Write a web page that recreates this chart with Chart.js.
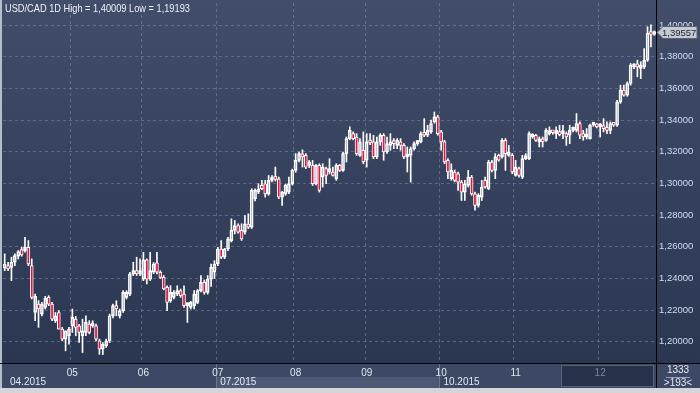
<!DOCTYPE html>
<html>
<head>
<meta charset="utf-8">
<title>USD/CAD 1D</title>
<script src="https://cdn.jsdelivr.net/npm/chart.js@4.4.0/dist/chart.umd.min.js"></script>
<style>
    html, body { margin: 0; padding: 0; background: #2f3a55; }
    #wrap { position: relative; width: 700px; height: 393px; }
</style>
</head>
<body>
<div id="wrap"><canvas id="chart" width="700" height="393"></canvas></div>
<script>
// USD/CAD daily candles, Apr - Dec 2015 (193 bars)

const opens = [
    1.2464, 1.2481, 1.2470, 1.2502, 1.2540, 1.2582, 1.2576, 1.2597, 1.2481, 1.2185,
    1.2238, 1.2175, 1.2217, 1.2280, 1.2238, 1.2133, 1.2185, 1.2080, 1.2017, 1.2038,
    1.2101, 1.2143, 1.2101, 1.2038, 1.2059, 1.2112, 1.2101, 1.2101, 1.2006, 1.1953,
    1.1974, 1.2006, 1.2164, 1.2228, 1.2164, 1.2196, 1.2280, 1.2301, 1.2428, 1.2449,
    1.2428, 1.2396, 1.2517, 1.2396, 1.2439, 1.2498, 1.2439, 1.2407, 1.2344, 1.2259,
    1.2280, 1.2301, 1.2323, 1.2301, 1.2228, 1.2217, 1.2228, 1.2249, 1.2323, 1.2375,
    1.2312, 1.2396, 1.2440, 1.2491, 1.2586, 1.2534, 1.2586, 1.2639, 1.2703, 1.2734,
    1.2703, 1.2692, 1.2734, 1.2724, 1.2903, 1.2945, 1.2987, 1.2998, 1.2934, 1.3019,
    1.3029, 1.3029, 1.2913, 1.2934, 1.2945, 1.2998, 1.3082, 1.3145, 1.3177, 1.3177,
    1.3114, 1.3114, 1.2998, 1.3114, 1.3040, 1.3093, 1.3072, 1.3072, 1.3030, 1.3114,
    1.3082, 1.3188, 1.3283, 1.3314, 1.3293, 1.3177, 1.3209, 1.3146, 1.3262, 1.3262,
    1.3167, 1.3262, 1.3304, 1.3198, 1.3240, 1.3262, 1.3240, 1.3262, 1.3240, 1.3167,
    1.3177, 1.3219, 1.3251, 1.3262, 1.3314, 1.3304, 1.3325, 1.3388, 1.3420, 1.3325,
    1.3262, 1.3146, 1.3030, 1.3072, 1.3061, 1.3008, 1.2945, 1.2987, 1.3040, 1.2934,
    1.2861, 1.2913, 1.3019, 1.2966, 1.3135, 1.3082, 1.3177, 1.3167, 1.3272, 1.3177,
    1.3177, 1.3051, 1.3093, 1.3040, 1.3156, 1.3156, 1.3293, 1.3304, 1.3262, 1.3272,
    1.3272, 1.3314, 1.3325, 1.3314, 1.3325, 1.3314, 1.3314, 1.3304, 1.3335, 1.3335,
    1.3378, 1.3314, 1.3293, 1.3283, 1.3367, 1.3367, 1.3357, 1.3357, 1.3346, 1.3335,
    1.3378, 1.3367, 1.3515, 1.3589, 1.3557, 1.3631, 1.3736, 1.3751, 1.3726, 1.3736,
    1.3778, 1.3947, 1.3940
];
const highs = [
    1.2555, 1.2502, 1.2534, 1.2555, 1.2576, 1.2597, 1.2660, 1.2639, 1.2523, 1.2301,
    1.2260, 1.2249, 1.2287, 1.2291, 1.2249, 1.2185, 1.2196, 1.2091, 1.2069, 1.2091,
    1.2207, 1.2160, 1.2110, 1.2143, 1.2164, 1.2133, 1.2133, 1.2112, 1.2017, 1.1995,
    1.2017, 1.2175, 1.2238, 1.2259, 1.2207, 1.2323, 1.2323, 1.2439, 1.2502, 1.2534,
    1.2523, 1.2565, 1.2523, 1.2565, 1.2500, 1.2565, 1.2449, 1.2418, 1.2354, 1.2354,
    1.2323, 1.2354, 1.2333, 1.2354, 1.2245, 1.2255, 1.2323, 1.2330, 1.2418, 1.2390,
    1.2418, 1.2491, 1.2512, 1.2597, 1.2639, 1.2590, 1.2660, 1.2776, 1.2766, 1.2745,
    1.2745, 1.2797, 1.2808, 1.2966, 1.2966, 1.2998, 1.3019, 1.3019, 1.3050, 1.3050,
    1.3103, 1.3040, 1.2950, 1.2995, 1.3040, 1.3090, 1.3188, 1.3198, 1.3212, 1.3188,
    1.3145, 1.3145, 1.3120, 1.3124, 1.3124, 1.3103, 1.3156, 1.3103, 1.3124, 1.3120,
    1.3198, 1.3293, 1.3357, 1.3325, 1.3314, 1.3283, 1.3325, 1.3314, 1.3314, 1.3304,
    1.3293, 1.3314, 1.3314, 1.3293, 1.3314, 1.3283, 1.3283, 1.3283, 1.3251, 1.3230,
    1.3230, 1.3262, 1.3272, 1.3325, 1.3409, 1.3367, 1.3399, 1.3451, 1.3430, 1.3335,
    1.3272, 1.3156, 1.3124, 1.3085, 1.3072, 1.3019, 1.3019, 1.3082, 1.3051, 1.2945,
    1.2935, 1.3019, 1.3040, 1.3146, 1.3146, 1.3188, 1.3185, 1.3283, 1.3283, 1.3240,
    1.3188, 1.3146, 1.3103, 1.3177, 1.3188, 1.3325, 1.3314, 1.3310, 1.3293, 1.3293,
    1.3346, 1.3357, 1.3335, 1.3357, 1.3367, 1.3367, 1.3325, 1.3367, 1.3357, 1.3441,
    1.3388, 1.3335, 1.3346, 1.3375, 1.3378, 1.3378, 1.3378, 1.3409, 1.3388, 1.3388,
    1.3385, 1.3525, 1.3620, 1.3620, 1.3641, 1.3757, 1.3757, 1.3778, 1.3768, 1.3852,
    1.3989, 1.40009, 1.3962
];
const lows = [
    1.2449, 1.2449, 1.2386, 1.2481, 1.2523, 1.2540, 1.2565, 1.2481, 1.2270, 1.2133,
    1.2091, 1.2164, 1.2207, 1.2228, 1.2133, 1.2122, 1.2080, 1.2006, 1.1943, 1.1985,
    1.2059, 1.2038, 1.1996, 1.1932, 1.2038, 1.2050, 1.2091, 1.2006, 1.1921, 1.19193,
    1.1964, 1.1995, 1.2150, 1.2164, 1.2150, 1.2185, 1.2270, 1.2291, 1.2418, 1.2418,
    1.2418, 1.2386, 1.2365, 1.2386, 1.2430, 1.2428, 1.2400, 1.2328, 1.2196, 1.2249,
    1.2270, 1.2291, 1.2280, 1.2217, 1.2122, 1.2207, 1.2207, 1.2240, 1.2315, 1.2300,
    1.2301, 1.2350, 1.2400, 1.2480, 1.2525, 1.2525, 1.2576, 1.2630, 1.2681, 1.2685,
    1.2640, 1.2680, 1.2715, 1.2715, 1.2890, 1.2935, 1.2960, 1.2913, 1.2925, 1.3010,
    1.3015, 1.2903, 1.2861, 1.2925, 1.2935, 1.2990, 1.3070, 1.3135, 1.3103, 1.3093,
    1.3100, 1.2987, 1.2990, 1.2945, 1.2977, 1.2998, 1.3060, 1.3045, 1.3019, 1.3075,
    1.3075, 1.3135, 1.3275, 1.3275, 1.3177, 1.3170, 1.3124, 1.3103, 1.3245, 1.3156,
    1.3156, 1.3240, 1.3146, 1.3190, 1.3209, 1.3219, 1.3219, 1.3209, 1.3156, 1.3072,
    1.3008, 1.3210, 1.3240, 1.3255, 1.3295, 1.3295, 1.3315, 1.3380, 1.3304, 1.3209,
    1.3124, 1.3030, 1.3020, 1.3010, 1.2956, 1.2892, 1.2892, 1.2977, 1.2925, 1.2831,
    1.2850, 1.2892, 1.2970, 1.2960, 1.3072, 1.3030, 1.3140, 1.3160, 1.3082, 1.3170,
    1.3061, 1.3045, 1.3040, 1.3030, 1.3150, 1.3150, 1.3285, 1.3265, 1.3230, 1.3230,
    1.3265, 1.3305, 1.3310, 1.3283, 1.3300, 1.3283, 1.3240, 1.3251, 1.3325, 1.3325,
    1.3283, 1.3272, 1.3280, 1.3280, 1.3360, 1.3350, 1.3293, 1.3325, 1.3314, 1.3314,
    1.3360, 1.3360, 1.3505, 1.3550, 1.3550, 1.3620, 1.3725, 1.3673, 1.3662, 1.3725,
    1.3770, 1.3862, 1.3935
];
const closes = [
    1.2491, 1.2460, 1.2502, 1.2544, 1.2570, 1.2548, 1.2597, 1.2491, 1.2280, 1.2287,
    1.2207, 1.2238, 1.2274, 1.2238, 1.2143, 1.2164, 1.2080, 1.2017, 1.2069, 1.2080,
    1.2154, 1.2091, 1.2059, 1.2069, 1.2122, 1.2059, 1.2112, 1.2017, 1.1953, 1.1985,
    1.2006, 1.2164, 1.2228, 1.2207, 1.2196, 1.2312, 1.2312, 1.2428, 1.2449, 1.2428,
    1.2449, 1.2517, 1.2396, 1.2449, 1.2491, 1.2439, 1.2407, 1.2333, 1.2249, 1.2312,
    1.2312, 1.2323, 1.2291, 1.2228, 1.2238, 1.2249, 1.2301, 1.2323, 1.2375, 1.2312,
    1.2396, 1.2470, 1.2491, 1.2586, 1.2534, 1.2586, 1.2650, 1.2703, 1.2734, 1.2692,
    1.2650, 1.2745, 1.2724, 1.2956, 1.2956, 1.2966, 1.2966, 1.2934, 1.3019, 1.3029,
    1.3025, 1.2913, 1.2945, 1.2987, 1.2998, 1.3082, 1.3145, 1.3188, 1.3167, 1.3103,
    1.3135, 1.2998, 1.3114, 1.2956, 1.3103, 1.3051, 1.3093, 1.3051, 1.3114, 1.3082,
    1.3188, 1.3283, 1.3335, 1.3283, 1.3188, 1.3262, 1.3135, 1.3262, 1.3255, 1.3167,
    1.3262, 1.3304, 1.3198, 1.3251, 1.3262, 1.3251, 1.3272, 1.3240, 1.3167, 1.3177,
    1.3219, 1.3251, 1.3262, 1.3314, 1.3304, 1.3335, 1.3378, 1.3420, 1.3314, 1.3262,
    1.3135, 1.3072, 1.3082, 1.3019, 1.3008, 1.2945, 1.2998, 1.3040, 1.2934, 1.2861,
    1.2924, 1.2977, 1.2977, 1.3135, 1.3082, 1.3167, 1.3146, 1.3272, 1.3188, 1.3198,
    1.3072, 1.3103, 1.3051, 1.3156, 1.3167, 1.3314, 1.3304, 1.3272, 1.3272, 1.3262,
    1.3335, 1.3325, 1.3320, 1.3335, 1.3308, 1.3325, 1.3293, 1.3335, 1.3346, 1.3378,
    1.3304, 1.3293, 1.3300, 1.3367, 1.3371, 1.3357, 1.3367, 1.3346, 1.3335, 1.3378,
    1.3367, 1.3515, 1.3589, 1.3557, 1.3631, 1.3747, 1.3747, 1.3736, 1.3747, 1.3778,
    1.3947, 1.3940, 1.39557
];

// first bar of each month and its axis label
const monthStarts = [20, 41, 63, 86, 107, 129, 151, 176];
const monthLabels = ['05', '06', '07', '08', '09', '10', '11', '12'];
// navigator row
const yearStarts = [0, 63, 129];
const yearLabels = ['04.2015', '07.2015', '10.2015'];

const yTicks = [1.20, 1.22, 1.24, 1.26, 1.28, 1.30, 1.32, 1.34, 1.36, 1.38, 1.40];
const yMin = 1.1866;
const yMax = 1.4139;

const FONT = 'Liberation Sans, Arial, sans-serif';
const GRID = 'rgba(140, 156, 188, 0.45)';

function fmt(v) {
    return v.toFixed(5).replace('.', ',');
}

const labels = closes.map((c, i) => String(i));
const bodyTop = opens.map((o, i) => Math.max(o, closes[i]));
const bodyBot = opens.map((o, i) => Math.min(o, closes[i]));

// edge between bar i-1 and bar i
function barEdge(x, i) {
    const step = x.getPixelForTick(1) - x.getPixelForTick(0);
    return x.getPixelForTick(i) - step / 2;
}

const backdrop = {
    id: 'backdrop',
    beforeDraw(chart) {
        const { ctx, chartArea: a, width, height } = chart;
        const x = chart.scales.x;
        ctx.save();

        const g = ctx.createLinearGradient(0, 0, 0, a.bottom);
        g.addColorStop(0, '#414d69');
        g.addColorStop(1, '#2b3651');
        ctx.fillStyle = g;
        ctx.fillRect(0, 0, width, a.bottom);

        // navigator strip
        const navBottom = height - 5;
        ctx.fillStyle = '#3c4864';
        ctx.fillRect(0, a.bottom, width, navBottom - a.bottom);

        const b0 = barEdge(x, yearStarts[1]);
        const b1 = barEdge(x, yearStarts[2]);
        ctx.fillStyle = '#4d5974';
        ctx.fillRect(b0, a.bottom + 14, b1 - b0, navBottom - a.bottom - 14);
        ctx.fillStyle = '#6b7690';
        ctx.fillRect(Math.round(b0), a.bottom, 1, navBottom - a.bottom);
        ctx.fillRect(Math.round(b1), a.bottom, 1, navBottom - a.bottom);

        // dark box over the last weeks
        const d0 = Math.round(barEdge(x, 165));
        ctx.fillStyle = '#27314a';
        ctx.fillRect(d0, a.bottom + 2, a.right - d0 - 2, navBottom - a.bottom - 3);
        ctx.strokeStyle = '#55607a';
        ctx.lineWidth = 1;
        ctx.strokeRect(d0 + 0.5, a.bottom + 2.5, a.right - d0 - 3, navBottom - a.bottom - 4);

        // year labels
        ctx.font = '10px ' + FONT;
        ctx.fillStyle = '#e4e9f2';
        ctx.textBaseline = 'middle';
        ctx.textAlign = 'left';
        yearStarts.forEach((idx, k) => {
            const px = Math.max(barEdge(x, idx) + 4, 10);
            ctx.fillText(yearLabels[k], px, a.bottom + 19);
        });

        // bar count box
        ctx.textAlign = 'center';
        const cx = (a.right + width) / 2;
        ctx.fillText('1333', cx, a.bottom + 7);
        ctx.fillStyle = '#9aa4b8';
        ctx.fillRect(cx - 12, a.bottom + 14, 24, 1);
        ctx.fillStyle = '#e4e9f2';
        ctx.fillText('>' + closes.length + '<', cx, a.bottom + 20);

        // frame
        ctx.fillStyle = '#b4bdcb';
        ctx.fillRect(0, 0, 2, navBottom);
        ctx.fillStyle = '#d3d5d9';
        ctx.fillRect(0, navBottom, width, height - navBottom);
        ctx.restore();
    },
    afterDraw(chart) {
        const { ctx, chartArea: a, width } = chart;
        const y = chart.scales.y;
        ctx.save();

        ctx.fillStyle = '#000';
        ctx.fillRect(Math.round(a.right), 0, 1, chart.height - 5);
        ctx.fillRect(0, Math.round(a.bottom), width, 1);

        // title, squeezed a little to match the original's narrow face
        const hi = Math.max(...highs);
        const lo = Math.min(...lows);
        ctx.save();
        ctx.translate(5, 9);
        ctx.scale(0.88, 1);
        ctx.font = '10.5px ' + FONT;
        ctx.fillStyle = '#eef2f8';
        ctx.textBaseline = 'middle';
        ctx.textAlign = 'left';
        ctx.fillText('USD/CAD 1D High = ' + fmt(hi) + ' Low = ' + fmt(lo), 0, 0);
        ctx.restore();

        // last price marker
        const last = closes[closes.length - 1];
        const py = Math.round(y.getPixelForValue(last)) + 0.5;
        const x0 = Math.round(a.right) + 1;
        ctx.beginPath();
        ctx.moveTo(x0, py);
        ctx.lineTo(x0 + 6, py - 6);
        ctx.lineTo(width - 3, py - 6);
        ctx.lineTo(width - 3, py + 6);
        ctx.lineTo(x0 + 6, py + 6);
        ctx.closePath();
        ctx.fillStyle = '#c6cad2';
        ctx.fill();
        ctx.strokeStyle = '#5a6274';
        ctx.lineWidth = 1;
        ctx.stroke();
        ctx.font = '9.5px ' + FONT;
        ctx.fillStyle = '#1b2232';
        ctx.textBaseline = 'middle';
        ctx.textAlign = 'left';
        ctx.fillText(fmt(last), x0 + 5, py + 0.5);
        ctx.restore();
    }
};

const ctx = document.getElementById('chart').getContext('2d');
new Chart(ctx, {
    type: 'bar',
    data: {
        labels: labels,
        datasets: [
            {
                label: 'upper wick',
                data: bodyTop.map((t, i) => [t, highs[i]]),
                backgroundColor: '#ffffff',
                barThickness: 1,
                grouped: false,
                order: 2
            },
            {
                label: 'lower wick',
                data: bodyBot.map((b, i) => [lows[i], b]),
                backgroundColor: '#ffffff',
                barThickness: 1,
                grouped: false,
                order: 2
            },
            {
                label: 'body',
                data: bodyBot.map((b, i) => [b, bodyTop[i]]),
                backgroundColor: c => closes[c.dataIndex] < opens[c.dataIndex] ? '#e5123d' : 'rgba(0,0,0,0)',
                borderColor: '#ffffff',
                borderWidth: 1,
                borderSkipped: false,
                barThickness: 3,
                minBarLength: 3,
                grouped: false,
                order: 1
            }
        ]
    },
    options: {
        responsive: false,
        animation: false,
        events: [],
        layout: { padding: { left: 3, top: 3, right: 0, bottom: 0 } },
        plugins: {
            legend: { display: false },
            tooltip: { enabled: false }
        },
        scales: {
            x: {
                offset: true,
                grid: {
                    offset: true,
                    drawTicks: false,
                    color: c => monthStarts.includes(c.index) ? GRID : 'rgba(0,0,0,0)'
                },
                border: { display: false, dash: [3, 3] },
                ticks: {
                    autoSkip: false,
                    maxRotation: 0,
                    padding: 4,
                    font: { family: FONT, size: 10 },
                    color: c => monthLabels[monthStarts.indexOf(c.index)] === '12' ? '#7b869b' : '#e2e8f2',
                    callback: (v, i) => {
                        const k = monthStarts.indexOf(i);
                        return k >= 0 ? monthLabels[k] : '';
                    }
                },
                afterFit: s => {
                    s.height = 30;
                    s.paddingLeft = 0;
                    s.paddingRight = 0;
                }
            },
            y: {
                position: 'right',
                min: yMin,
                max: yMax,
                grid: { drawTicks: false, color: GRID },
                border: { display: false, dash: [3, 3] },
                ticks: {
                    padding: 3,
                    font: { family: FONT, size: 9.5 },
                    color: '#cfdcf0',
                    callback: v => fmt(v)
                },
                afterBuildTicks: s => { s.ticks = yTicks.map(v => ({ value: v })); },
                afterFit: s => {
                    s.width = 44;
                    s.paddingTop = 0;
                    s.paddingBottom = 0;
                }
            }
        }
    },
    plugins: [backdrop]
});
</script>
</body>
</html>
